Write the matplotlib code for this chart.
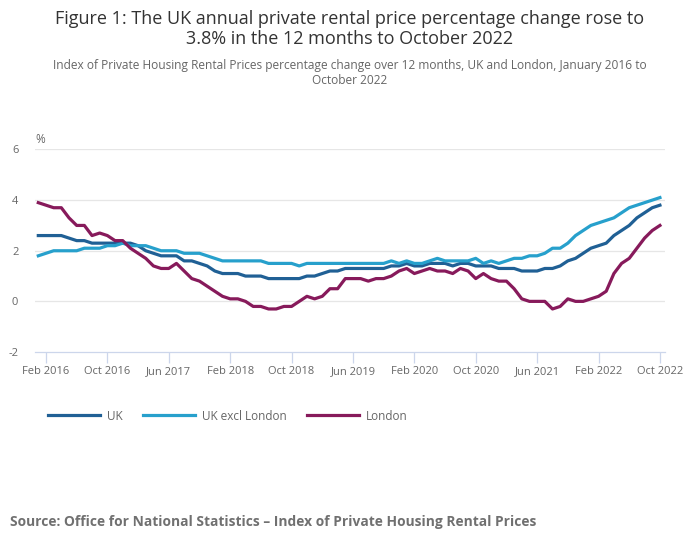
import matplotlib
matplotlib.use("Agg")
import matplotlib.pyplot as plt

# ===== Data: 12-month % change, Jan 2016 to Oct 2022 (monthly)
uk = [2.6, 2.6, 2.6, 2.6, 2.5, 2.4, 2.4, 2.3, 2.3, 2.3, 2.3, 2.3,
      2.3, 2.2, 2.0, 1.9, 1.8, 1.8, 1.8, 1.6, 1.6, 1.5, 1.4, 1.2,
      1.1, 1.1, 1.1, 1.0, 1.0, 1.0, 0.9, 0.9, 0.9, 0.9, 0.9, 1.0,
      1.0, 1.1, 1.2, 1.2, 1.3, 1.3, 1.3, 1.3, 1.3, 1.3, 1.4, 1.4,
      1.5, 1.4, 1.4, 1.5, 1.5, 1.5, 1.4, 1.5, 1.5, 1.4, 1.4, 1.4,
      1.3, 1.3, 1.3, 1.2, 1.2, 1.2, 1.3, 1.3, 1.4, 1.6, 1.7, 1.9,
      2.1, 2.2, 2.3, 2.6, 2.8, 3.0, 3.3, 3.5, 3.7, 3.8]
uk_excl_london = [1.8, 1.9, 2.0, 2.0, 2.0, 2.0, 2.1, 2.1, 2.1, 2.2, 2.2, 2.3,
                  2.2, 2.2, 2.2, 2.1, 2.0, 2.0, 2.0, 1.9, 1.9, 1.9, 1.8, 1.7,
                  1.6, 1.6, 1.6, 1.6, 1.6, 1.6, 1.5, 1.5, 1.5, 1.5, 1.4, 1.5,
                  1.5, 1.5, 1.5, 1.5, 1.5, 1.5, 1.5, 1.5, 1.5, 1.5, 1.6, 1.5,
                  1.6, 1.5, 1.5, 1.6, 1.7, 1.6, 1.6, 1.6, 1.6, 1.7, 1.5, 1.6,
                  1.5, 1.6, 1.7, 1.7, 1.8, 1.8, 1.9, 2.1, 2.1, 2.3, 2.6, 2.8,
                  3.0, 3.1, 3.2, 3.3, 3.5, 3.7, 3.8, 3.9, 4.0, 4.1]
london = [3.9, 3.8, 3.7, 3.7, 3.3, 3.0, 3.0, 2.6, 2.7, 2.6, 2.4, 2.4,
          2.1, 1.9, 1.7, 1.4, 1.3, 1.3, 1.5, 1.2, 0.9, 0.8, 0.6, 0.4,
          0.2, 0.1, 0.1, 0.0, -0.2, -0.2, -0.3, -0.3, -0.2, -0.2, 0.0, 0.2,
          0.1, 0.2, 0.5, 0.5, 0.9, 0.9, 0.9, 0.8, 0.9, 0.9, 1.0, 1.2,
          1.3, 1.1, 1.2, 1.3, 1.2, 1.2, 1.1, 1.3, 1.2, 0.9, 1.1, 0.9,
          0.8, 0.8, 0.5, 0.1, 0.0, 0.0, 0.0, -0.3, -0.2, 0.1, 0.0, 0.0,
          0.1, 0.2, 0.4, 1.1, 1.5, 1.7, 2.1, 2.5, 2.8, 3.0]
months = list(range(len(uk)))
tick_pos = [1, 9, 17, 25, 33, 41, 49, 57, 65, 73, 81]
tick_labels = ["Feb 2016", "Oct 2016", "Jun 2017", "Feb 2018", "Oct 2018", "Jun 2019",
               "Feb 2020", "Oct 2020", "Jun 2021", "Feb 2022", "Oct 2022"]
y_ticks = [-2, 0, 2, 4, 6]

plt.rcParams['font.family'] = ['Open Sans', 'DejaVu Sans']

W, H = 700, 549
fig = plt.figure(figsize=(W / 100, H / 100), dpi=100)
ax = fig.add_axes([35 / W, 1 - 352 / H, 630 / W, (352 - 149.5) / H])

ax.plot(months, uk, color='#206095', lw=2.3, label='UK', solid_joinstyle='round')
ax.plot(months, uk_excl_london, color='#27a0cc', lw=2.3, label='UK excl London', solid_joinstyle='round')
ax.plot(months, london, color='#871a5b', lw=2.3, label='London', solid_joinstyle='round')

ax.set_xlim(-0.43, 81.66)
ax.set_ylim(-2, 6)
ax.set_yticks(y_ticks)
ax.set_yticklabels([str(v) for v in y_ticks])
ax.set_xticks(tick_pos)
ax.set_xticklabels(tick_labels)
for v in y_ticks[1:]:
    ax.axhline(v, color='#e6e6e6', lw=0.9, zorder=0)

for s in ['top', 'right', 'left']:
    ax.spines[s].set_visible(False)
ax.spines['bottom'].set_color('#ccd6eb')
ax.spines['bottom'].set_linewidth(0.9)
ax.tick_params(axis='x', colors='#ccd6eb', length=8, width=0.9, pad=2, labelcolor='#666666', labelsize=8)
ax.tick_params(axis='y', length=0, pad=12, labelcolor='#666666', labelsize=8)
for lab in ax.get_yticklabels():
    lab.set_horizontalalignment('right')

ax.text(0, 1.015, '%', transform=ax.transAxes, ha='left', va='bottom', fontsize=8.5, color='#666666')

fig.text(0.5, 1 - 29 / H, "Figure 1: The UK annual private rental price percentage change rose to\n3.8% in the 12 months to October 2022",
         ha='center', va='center', fontsize=13, color='#333333', linespacing=1.15)
fig.text(0.5, 1 - 73 / H, "Index of Private Housing Rental Prices percentage change over 12 months, UK and London, January 2016 to\nOctober 2022",
         ha='center', va='center', fontsize=8.6, color='#666666', linespacing=1.2)

fig.legend(loc='center left', bbox_to_anchor=(48 / W, 1 - 416 / H), ncol=3, frameon=False,
           handlelength=4.4, handletextpad=0.6, columnspacing=1.7, borderpad=0, borderaxespad=0,
           fontsize=8.5, labelcolor='#666666')

fig.text(10 / W, 1 - 522 / H, "Source: Office for National Statistics – Index of Private Housing Rental Prices",
         ha='left', va='center', fontsize=9.9, fontweight='bold', color='#707070')

fig.savefig('out.png', dpi=100)
